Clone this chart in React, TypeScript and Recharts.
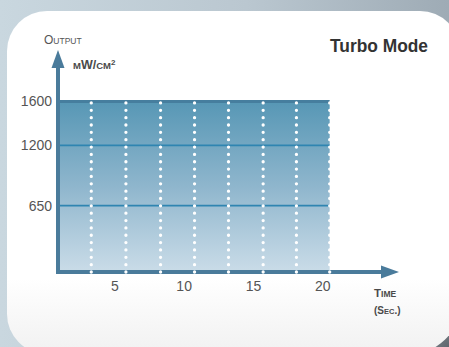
import React from 'react';
import { ComposedChart, Area, XAxis, YAxis, ReferenceLine } from 'recharts';

// time axis (sec.) and output (mW/cm²)
const timeTicks = [5, 10, 15, 20];
const outputTicks = [650, 1200, 1600];
const dottedTimes = [3.3, 5.8, 8.3, 10.75, 13.2, 15.7, 18.1, 20.5];
const levelLines = [1200, 650];
const plateau = [
  { time: 0.9, output: 1600 },
  { time: 20.5, output: 1600 },
];
const xDomain = [0.9, 25.5];
const yDomain = [45, 2070];

const AXIS = '#4a7b9b';
const TOP_LINE = '#467e9e';
const LEVEL = '#2f85b1';
const TEXT = '#4a4a4a';
const FONT = '"Liberation Sans", Arial, sans-serif';

const Arrow = (props: any) => {
  const { x1, y1, x2, y2 } = props;
  const dx = x2 - x1;
  const dy = y2 - y1;
  const len = Math.hypot(dx, dy) || 1;
  const ux = dx / len;
  const uy = dy / len;
  const head = 18;
  const half = 6.5;
  const bx = x2 - ux * head;
  const by = y2 - uy * head;
  return (
    <g>
      <line x1={x1 - ux * 2} y1={y1 - uy * 2} x2={bx + ux} y2={by + uy} stroke={AXIS} strokeWidth={4} />
      <polygon
        points={`${x2},${y2} ${bx - uy * half},${by + ux * half} ${bx + uy * half},${by - ux * half}`}
        fill={AXIS}
      />
    </g>
  );
};

const Dotted = (props: any) => {
  const { x1, y1, x2, y2 } = props;
  return (
    <line
      x1={x1}
      y1={y1}
      x2={x2}
      y2={y2}
      stroke="#ffffff"
      strokeWidth={3.3}
      strokeDasharray="0 7.35"
      strokeLinecap="round"
    />
  );
};

export default function App() {
  return (
    <div
      style={{
        position: 'fixed',
        left: 0,
        top: 0,
        width: 449,
        height: 347,
        overflow: 'hidden',
        background:
          'radial-gradient(circle at 100% 100%, #5f666d 0px, #7d868e 25px, rgba(150,160,170,0) 70px), linear-gradient(to right, #c9d7df 0%, #bac7d0 55%, #9eabb5 100%)',
      }}
    >
      <div
        style={{
          position: 'absolute',
          left: 7,
          top: 11,
          width: 453,
          height: 343,
          borderRadius: '40px 40px 50px 40px',
          background: 'linear-gradient(to bottom, #ffffff 0%, #ffffff 78%, #f1f1f1 100%)',
        }}
      />
      <div style={{ position: 'absolute', left: 0, top: 0 }}>
        <ComposedChart
          width={449}
          height={347}
          data={plateau}
          margin={{ top: 50, right: 50, bottom: 45, left: 8 }}
        >
          <defs>
            <linearGradient id="plateauFill" x1="0" y1="0" x2="0" y2="1">
              <stop offset="0%" stopColor="#5797b5" />
              <stop offset="50%" stopColor="#8fb6cd" />
              <stop offset="100%" stopColor="#cadce8" />
            </linearGradient>
          </defs>
          <XAxis
            type="number"
            dataKey="time"
            domain={xDomain}
            ticks={timeTicks}
            allowDataOverflow
            height={30}
            axisLine={false}
            tickLine={false}
            tickSize={0}
            tickMargin={9}
            tick={{ fill: '#555555', fontSize: 14, fontFamily: FONT }}
          />
          <YAxis
            type="number"
            domain={yDomain}
            ticks={outputTicks}
            allowDataOverflow
            width={50}
            axisLine={false}
            tickLine={false}
            tickSize={0}
            tickMargin={6}
            tick={{ fill: '#555555', fontSize: 14, fontFamily: FONT }}
          />
          <Area
            type="linear"
            dataKey="output"
            stroke={TOP_LINE}
            strokeWidth={3}
            fill="url(#plateauFill)"
            fillOpacity={1}
            dot={false}
            activeDot={false}
            isAnimationActive={false}
          />
          {levelLines.map((v) => (
            <ReferenceLine
              key={`lvl-${v}`}
              segment={[
                { x: plateau[0].time, y: v },
                { x: plateau[1].time, y: v },
              ]}
              stroke={LEVEL}
              strokeWidth={1.6}
              ifOverflow="visible"
            />
          ))}
          <ReferenceLine
            segment={[
              { x: xDomain[0], y: yDomain[0] },
              { x: xDomain[1], y: yDomain[0] },
            ]}
            shape={Arrow}
            ifOverflow="visible"
          />
          <ReferenceLine
            segment={[
              { x: xDomain[0], y: yDomain[0] },
              { x: xDomain[0], y: yDomain[1] },
            ]}
            shape={Arrow}
            ifOverflow="visible"
          />
          {dottedTimes.map((t) => (
            <ReferenceLine
              key={`dot-${t}`}
              segment={[
                { x: t, y: yDomain[0] },
                { x: t, y: 1600 },
              ]}
              shape={Dotted}
              ifOverflow="visible"
            />
          ))}
        </ComposedChart>
      </div>
      <svg width={449} height={347} style={{ position: 'absolute', left: 0, top: 0, pointerEvents: 'none' }}>
        <g fontFamily={FONT} fill={TEXT}>
          <text x={428} y={52} fontSize={18} fontWeight="bold" textAnchor="end" fill="#333333" textLength={98} lengthAdjust="spacingAndGlyphs">
            Turbo Mode
          </text>
          <text x={44} y={44} fill="#555555">
            <tspan fontSize={12}>O</tspan>
            <tspan fontSize={8.5}>UTPUT</tspan>
          </text>
          <text x={73} y={69} fontWeight="bold">
            <tspan fontSize={9.5}>M</tspan>
            <tspan fontSize={12.5}>W/</tspan>
            <tspan fontSize={9.5}>CM</tspan>
            <tspan fontSize={8} dy={-4}>2</tspan>
          </text>
          <text x={374} y={297} fontWeight="bold">
            <tspan fontSize={11.5}>T</tspan>
            <tspan fontSize={8.5}>IME</tspan>
          </text>
          <text x={374} y={314} fontWeight="bold">
            <tspan fontSize={10}>(S</tspan>
            <tspan fontSize={7.5}>EC</tspan>
            <tspan fontSize={10}>.)</tspan>
          </text>
        </g>
      </svg>
    </div>
  );
}
